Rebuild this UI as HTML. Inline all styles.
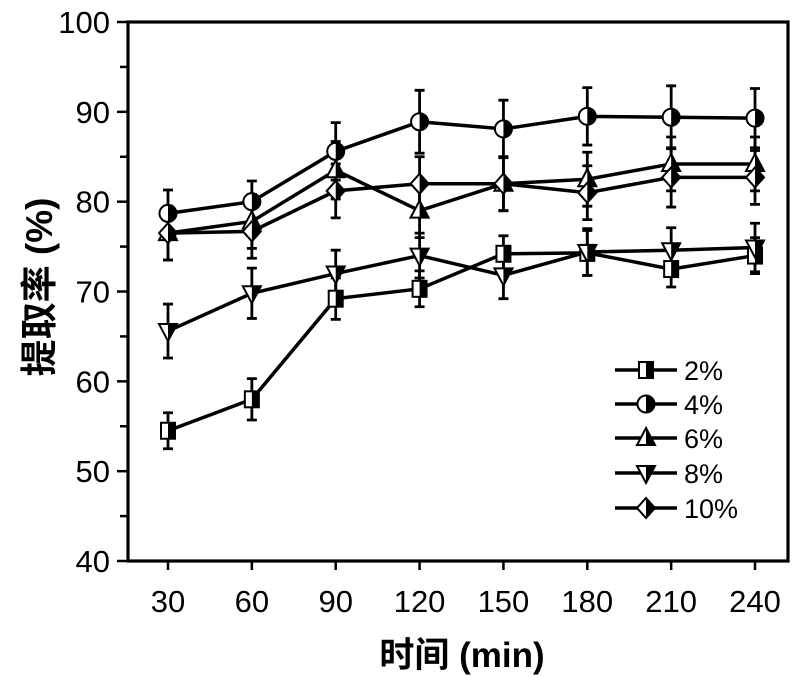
<!DOCTYPE html>
<html><head><meta charset="utf-8"><style>
body{margin:0;background:#fff}
svg{display:block}
text{font-family:"Liberation Sans","Noto Sans CJK SC",sans-serif}
</style></head><body>
<svg id="s" width="800" height="677" viewBox="0 0 800 677" xmlns="http://www.w3.org/2000/svg">
<defs>
<g id="m0"><rect x="-7" y="-8" width="14" height="16" fill="#fff" stroke="#000" stroke-width="2"/><rect x="0" y="-8" width="7" height="16" fill="#000"/></g>
<g id="m1"><circle r="8.5" fill="#fff" stroke="#000" stroke-width="2"/><path d="M0,-8.5 A8.5,8.5 0 0 1 0,8.5 Z" fill="#000"/></g>
<g id="m2"><path d="M0,-10 L9,7 L-9,7 Z" fill="#fff" stroke="#000" stroke-width="2"/><path d="M0,-10 L9,7 L0,7 Z" fill="#000"/></g>
<g id="m3"><path d="M0,10 L9,-7 L-9,-7 Z" fill="#fff" stroke="#000" stroke-width="2"/><path d="M0,10 L9,-7 L0,-7 Z" fill="#000"/></g>
<g id="m4"><path d="M0,-10 L9,0 L0,10 L-9,0 Z" fill="#fff" stroke="#000" stroke-width="2"/><path d="M0,-10 L9,0 L0,10 Z" fill="#000"/></g>
</defs>
<g id="g"></g>
</svg>
<script>
const X=t=>168+(t-30)*83.86/30, Y=v=>561-(v-40)*8.983;
const ts=[30,60,90,120,150,180,210,240];
const D=[[54.5,58,69.2,70.3,74.2,74.3,72.5,74],
[78.7,80,85.6,88.9,88.1,89.5,89.4,89.3],
[76.5,77.8,83.5,79,82,82.5,84.2,84.2],
[65.6,69.8,72,74,71.8,74.4,74.6,74.9],
[76.5,76.7,81.2,82,82,81,82.7,82.7]];
const E=[[2,2.3,2.3,2,2,2.5,2,2],[2.6,2.3,3.2,3.5,3.2,3.2,3.5,3.3],[3,3,3.2,3,3,3,3,3],[3,2.8,2.6,2.5,2.6,2.6,2.5,2.7],[3,3,3,3,3,3,3.3,3]];
let h='';
h+='<rect x="128" y="22" width="660" height="539" fill="none" stroke="#000" stroke-width="3.2"/>';
for(let v=40;v<=100;v+=5){const y=Y(v);h+=`<line x1="${v%10?120:117}" x2="128" y1="${y}" y2="${y}" stroke="#000" stroke-width="2.5"/>`;
 if(v%10==0)h+=`<text x="110" y="${y+11}" font-size="31" text-anchor="end">${v}</text>`;}
ts.forEach(t=>{const x=X(t);h+=`<line x1="${x}" x2="${x}" y1="561" y2="570" stroke="#000" stroke-width="2.5"/><text x="${x}" y="612" font-size="31" text-anchor="middle">${t}</text>`;});
h+='<text x="462" y="667" font-size="35" font-weight="bold" text-anchor="middle">时间 (min)</text>';
h+='<text transform="translate(52,287) rotate(-90)" font-size="37" font-weight="bold" text-anchor="middle">提取率 (%)</text>';
D.forEach((d,i)=>{
 h+='<polyline fill="none" stroke="#000" stroke-width="3.5" points="'+d.map((v,j)=>X(ts[j])+','+Y(v)).join(' ')+'"/>';
 d.forEach((v,j)=>{const x=X(ts[j]),e=E[i][j];h+=`<path d="M${x},${Y(v-e)}V${Y(v+e)}M${x-5},${Y(v-e)}h10M${x-5},${Y(v+e)}h10" stroke="#000" stroke-width="2.8" fill="none"/>`;});
});
D.forEach((d,i)=>d.forEach((v,j)=>{h+=`<use href="#m${i}" x="${X(ts[j])}" y="${Y(v)}"/>`;}));
const L=['2%','4%','6%','8%','10%'],LY=[370,404,438,473,508];
L.forEach((l,i)=>{h+=`<line x1="615" x2="677" y1="${LY[i]}" y2="${LY[i]}" stroke="#000" stroke-width="3.5"/><use href="#m${i}" x="646" y="${LY[i]}"/><text x="684" y="${LY[i]+10}" font-size="27">${l}</text>`;});
document.getElementById('g').innerHTML=h;
</script>
</body></html>
